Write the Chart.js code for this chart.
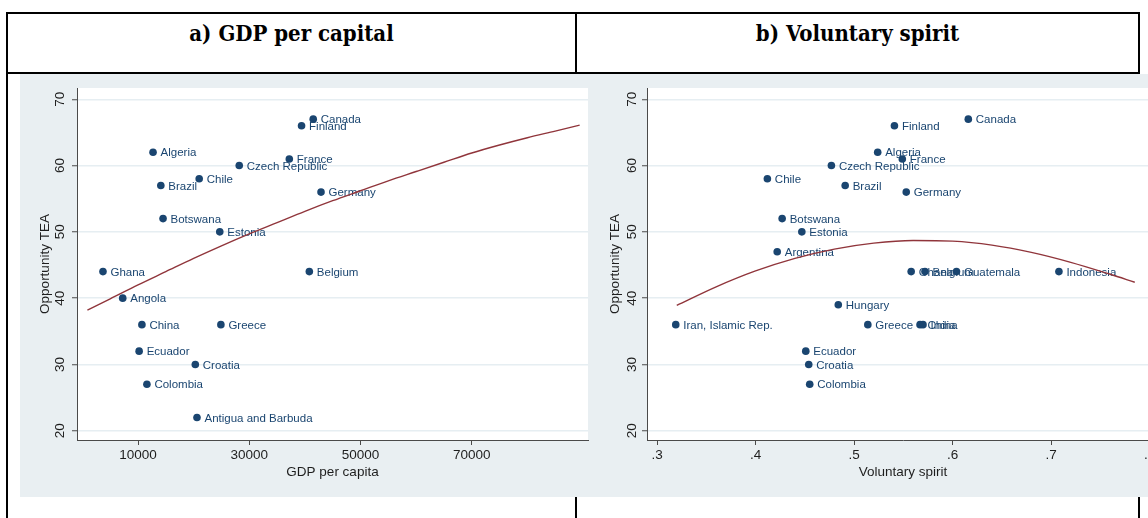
<!DOCTYPE html>
<html>
<head>
<meta charset="utf-8">
<title>Opportunity TEA</title>
<script src="https://cdn.jsdelivr.net/npm/chart.js@4.4.1/dist/chart.umd.min.js"></script>
<style>
  html, body { margin: 0; padding: 0; background: #fff; }
  body { width: 1148px; height: 518px; position: relative; overflow: hidden; }
  .rule { position: absolute; background: #000; }
  .head {
    position: absolute; top: 22px; line-height: 22px; text-align: center;
    font-family: "DejaVu Serif", "Liberation Serif", serif; font-weight: bold;
    font-size: 22px; font-stretch: condensed; color: #000; white-space: nowrap;
  }
  canvas { position: absolute; top: 74px; display: block; }
</style>
</head>
<body>
  <div class="rule" style="left:6px;top:12px;width:1134px;height:2px"></div>
  <div class="rule" style="left:6px;top:72px;width:1134px;height:2px"></div>
  <div class="rule" style="left:6px;top:12px;width:2px;height:506px"></div>
  <div class="rule" style="left:575px;top:12px;width:2px;height:62px"></div>
  <div class="rule" style="left:575px;top:497px;width:2px;height:21px"></div>
  <div class="rule" style="left:1138px;top:12px;width:2px;height:62px"></div>
  <div class="rule" style="left:1138px;top:497px;width:2px;height:21px"></div>

  <div class="head" style="left:8px;width:567px">a) GDP per capital</div>
  <div class="head" style="left:577px;width:561px">b) Voluntary spirit</div>

  <canvas id="panelA" width="578" height="423" style="left:20px"></canvas>
  <canvas id="panelB" width="572" height="423" style="left:598px"></canvas>

<script>
// ---- Panel a: GDP per capita vs. opportunity TEA ----
const gdpCountries = ['Algeria', 'Brazil', 'Chile', 'Czech Republic', 'Botswana', 'Estonia',
  'Ghana', 'Angola', 'Canada', 'Finland', 'France', 'Germany', 'Belgium', 'China', 'Greece',
  'Ecuador', 'Croatia', 'Colombia', 'Antigua and Barbuda'];
const gdpPerCapita = [12700, 14100, 21000, 28200, 14500, 24700,
  3700, 7250, 41500, 39400, 37200, 42900, 40800, 10700, 24900,
  10200, 20300, 11600, 20600];
const gdpTea = [62, 57, 58, 60, 52, 50,
  44, 40, 67, 66, 61, 56, 44, 36, 36,
  32, 30, 27, 22];
// quadratic fit curve, sampled along the GDP axis
const gdpFitX = [900, 5000, 10000, 15000, 20000, 25000, 30000, 35000, 40000, 45000,
  50000, 55000, 60000, 65000, 70000, 75000, 80000, 85000, 89400];
const gdpFitY = [38.2, 39.9, 42.0, 44.0, 46.0, 47.9, 49.7, 51.4, 53.1, 54.7,
  56.2, 57.7, 59.1, 60.5, 61.9, 63.1, 64.2, 65.2, 66.1];
const gdpTicks = [10000, 30000, 50000, 70000];

// ---- Panel b: voluntary spirit vs. opportunity TEA ----
const volCountries = ['Canada', 'Finland', 'Algeria', 'France', 'Czech Republic', 'Chile',
  'Brazil', 'Germany', 'Botswana', 'Estonia', 'Argentina', 'Ghana', 'Belgium', 'Guatemala',
  'Indonesia', 'Hungary', 'Iran, Islamic Rep.', 'Greece', 'China', 'India', 'Ecuador',
  'Croatia', 'Colombia'];
const volSpirit = [0.616, 0.541, 0.524, 0.549, 0.477, 0.412,
  0.491, 0.553, 0.427, 0.447, 0.422, 0.558, 0.572, 0.604,
  0.708, 0.484, 0.319, 0.514, 0.567, 0.570, 0.451,
  0.454, 0.455];
const volTea = [67, 66, 62, 61, 60, 58,
  57, 56, 52, 50, 47, 44, 44, 44,
  44, 39, 36, 36, 36, 36, 32,
  30, 27];
const volFitX = [0.32, 0.36, 0.40, 0.44, 0.48, 0.52, 0.56, 0.60, 0.64, 0.68, 0.72, 0.76, 0.785];
const volFitY = [38.9, 41.7, 44.1, 46.0, 47.4, 48.3, 48.7, 48.6, 48.0, 46.9, 45.4, 43.6, 42.4];
const volTicks = [0.3, 0.4, 0.5, 0.6, 0.7, 0.8];

// shared vertical axis
const teaTicks = [20, 30, 40, 50, 60, 70];
const teaMin = 18.6, teaMax = 71.7;

const NAVY = '#1A4570';
const MAROON = '#90353B';
const AXIS = '#4a4a4a';
const GRID = '#E6EEF2';
const REGION = '#E9EFF2';
const TEXT = '#1e1e1e';
const SANS = '"Liberation Sans", Arial, Helvetica, sans-serif';

// light graph region with a white plot region
const backdrop = {
  id: 'backdrop',
  beforeDraw(chart) {
    const { ctx, chartArea: a } = chart;
    ctx.save();
    ctx.fillStyle = REGION;
    ctx.fillRect(0, 0, chart.width, chart.height);
    ctx.fillStyle = '#fff';
    ctx.fillRect(a.left, a.top, a.right - a.left, a.bottom - a.top);
    ctx.restore();
  }
};

// vertical-axis numbers, turned to read bottom-to-top
const verticalTickLabels = {
  id: 'verticalTickLabels',
  afterDraw(chart, args, opts) {
    const s = chart.scales.y, ctx = chart.ctx;
    ctx.save();
    ctx.fillStyle = TEXT;
    ctx.font = '13.5px ' + SANS;
    ctx.textAlign = 'center';
    ctx.textBaseline = 'middle';
    for (const t of s.ticks) {
      ctx.save();
      ctx.translate(chart.chartArea.left - opts.gap, s.getPixelForValue(t.value));
      ctx.rotate(-Math.PI / 2);
      ctx.fillText(String(t.value), 0, 0);
      ctx.restore();
    }
    ctx.restore();
  }
};

// country names to the right of each marker
const pointNames = {
  id: 'pointNames',
  afterDatasetDraw(chart, args, opts) {
    if (args.index !== 1) return;
    const ctx = chart.ctx;
    ctx.save();
    ctx.fillStyle = NAVY;
    ctx.font = '11.5px ' + SANS;
    ctx.textAlign = 'left';
    ctx.textBaseline = 'middle';
    args.meta.data.forEach((pt, i) => ctx.fillText(opts.names[i], pt.x + 7.5, pt.y + 1));
    ctx.restore();
  }
};

function buildPanel(id, p) {
  return new Chart(document.getElementById(id), {
    type: 'scatter',
    data: {
      datasets: [
        {
          type: 'line',
          data: p.fitX.map((x, i) => ({ x, y: p.fitY[i] })),
          showLine: true,
          borderColor: MAROON,
          borderWidth: 1.4,
          pointRadius: 0,
          fill: false,
          cubicInterpolationMode: 'monotone'
        },
        {
          type: 'scatter',
          data: p.x.map((x, i) => ({ x, y: p.y[i] })),
          backgroundColor: NAVY,
          borderColor: NAVY,
          borderWidth: 0,
          pointRadius: 3.8
        }
      ]
    },
    options: {
      responsive: false,
      animation: false,
      devicePixelRatio: 1,
      events: [],
      layout: { padding: { left: 0, right: p.padRight, top: 14, bottom: 0 } },
      plugins: {
        legend: { display: false },
        tooltip: { enabled: false },
        pointNames: { names: p.names },
        verticalTickLabels: { gap: p.tickGap }
      },
      scales: {
        x: {
          type: 'linear',
          min: p.xMin,
          max: p.xMax,
          afterBuildTicks: s => { s.ticks = p.xTicks.map(v => ({ value: v })); },
          afterFit: s => { s.height = 57; },
          ticks: {
            padding: 2,
            color: TEXT,
            autoSkip: false,
            maxRotation: 0,
            font: { family: SANS, size: 13.5 },
            callback: p.xFormat
          },
          grid: { drawOnChartArea: false, tickLength: 5, tickColor: AXIS, tickWidth: 1 },
          border: { color: AXIS, width: 1 },
          title: {
            display: true,
            text: p.xTitle,
            color: TEXT,
            font: { family: SANS, size: 13.5 },
            padding: { top: 0, bottom: 17 }
          }
        },
        y: {
          type: 'linear',
          min: teaMin,
          max: teaMax,
          afterBuildTicks: s => { s.ticks = teaTicks.map(v => ({ value: v })); },
          afterFit: s => { s.width = p.yWidth; },
          ticks: { display: false },
          grid: { color: GRID, lineWidth: 1.5, tickLength: 5, tickColor: AXIS, tickWidth: 1 },
          border: { color: AXIS, width: 1 },
          title: {
            display: true,
            text: 'Opportunity TEA',
            color: TEXT,
            font: { family: SANS, size: 13.5 },
            padding: { top: p.yTitlePad, bottom: 0 }
          }
        }
      }
    },
    plugins: [backdrop, verticalTickLabels, pointNames]
  });
}

buildPanel('panelA', {
  names: gdpCountries, x: gdpPerCapita, y: gdpTea,
  fitX: gdpFitX, fitY: gdpFitY,
  xTicks: gdpTicks, xMin: -970, xMax: 90900,
  xFormat: v => String(v),
  xTitle: 'GDP per capita',
  yWidth: 57, yTitlePad: 17, tickGap: 17, padRight: 10
});

buildPanel('panelB', {
  names: volCountries, x: volSpirit, y: volTea,
  fitX: volFitX, fitY: volFitY,
  xTicks: volTicks, xMin: 0.2898, xMax: 0.8096,
  xFormat: v => v.toFixed(1).replace(/^0/, ''),
  xTitle: 'Voluntary spirit',
  yWidth: 49, yTitlePad: 9, tickGap: 15, padRight: 11
});
</script>
</body>
</html>
